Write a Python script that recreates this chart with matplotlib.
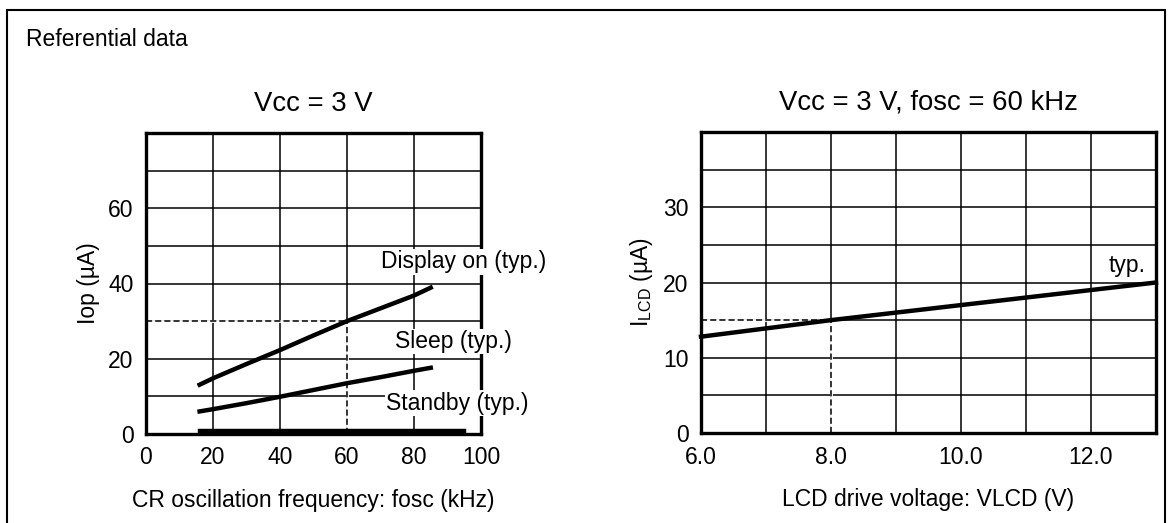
import matplotlib.pyplot as plt
from matplotlib.patches import Rectangle

plt.rcParams['font.family'] = ['Liberation Sans', 'DejaVu Sans']
plt.rcParams['font.size'] = 16.5

# operating current vs CR oscillation frequency
osc_freq = [16, 20, 30, 40, 50, 60, 70, 80, 85]
display_on = [13.1, 14.8, 18.6, 22.3, 26.2, 30.0, 33.4, 36.8, 38.9]
sleep = [6.0, 6.6, 8.2, 9.9, 11.7, 13.5, 15.1, 16.8, 17.6]
standby_freq = [16, 95]
standby = [0.7, 0.7]

# LCD drive current vs LCD drive voltage
vlcd = [6.0, 7.0, 8.0, 9.0, 10.0, 11.0, 12.0, 13.0]
ilcd = [12.8, 13.9, 15.0, 16.0, 17.0, 18.0, 19.0, 20.0]

left_xticks = [0, 20, 40, 60, 80, 100]
left_yticks = [0, 10, 20, 30, 40, 50, 60, 70, 80]
left_ylabels = ['0', '', '20', '', '40', '', '60', '', '']
right_xticks = [6, 7, 8, 9, 10, 11, 12, 13]
right_xlabels = ['6.0', '', '8.0', '', '10.0', '', '12.0', '']
right_yticks = [0, 5, 10, 15, 20, 25, 30, 35, 40]
right_ylabels = ['0', '', '10', '', '20', '', '30', '', '']

fig = plt.figure(figsize=(11.72, 5.23), dpi=100)

# outer frame
fig.patches.append(Rectangle((7 / 1172, -0.05), 1158 / 1172, 1.05 - 10 / 523,
                             transform=fig.transFigure, fill=False,
                             edgecolor='black', linewidth=1.5))
fig.text(26 / 1172, 1 - 39 / 523, 'Referential data', ha='left', va='center')

ax1 = fig.add_axes([146 / 1172, 1 - 434 / 523, 335 / 1172, 301 / 523])
ax2 = fig.add_axes([701 / 1172, 1 - 433 / 523, 455 / 1172, 301 / 523])

label_box = dict(facecolor='white', edgecolor='none', pad=1.0)


def style(ax):
    for s in ax.spines.values():
        s.set_linewidth(2.4)
    ax.tick_params(length=0, pad=9)
    ax.grid(True, color='black', linewidth=1.1)
    ax.set_axisbelow(True)


def dashed_guide(ax, x0, x1, y0, y1):
    # white out the grid segment, then draw it dashed
    ax.plot([x0, x1], [y0, y1], color='white', linewidth=2.0, zorder=1.5)
    ax.plot([x0, x1], [y0, y1], color='black', linewidth=1.1,
            linestyle=(0, (4, 2)), zorder=1.6)


# left panel
style(ax1)
ax1.set_xlim(0, 100)
ax1.set_ylim(0, 80)
ax1.set_xticks(left_xticks)
ax1.set_yticks(left_yticks)
ax1.set_yticklabels(left_ylabels)
dashed_guide(ax1, 0, 60, 30, 30)
dashed_guide(ax1, 60, 60, 0, 30)
ax1.plot(osc_freq, display_on, color='black', linewidth=3.2, zorder=3)
ax1.plot(osc_freq, sleep, color='black', linewidth=3.2, zorder=3)
ax1.plot(standby_freq, standby, color='black', linewidth=3.2, zorder=3)
ax1.text(70.2, 45.8, 'Display on (typ.)', ha='left', va='center',
         clip_on=False, bbox=label_box, zorder=4)
ax1.text(74.2, 24.6, 'Sleep (typ.)', ha='left', va='center',
         clip_on=False, bbox=label_box, zorder=4)
ax1.text(71.7, 8.2, 'Standby (typ.)', ha='left', va='center',
         clip_on=False, bbox=label_box, zorder=4)
ax1.set_title('Vcc = 3 V', pad=16)
ax1.set_xlabel('CR oscillation frequency: fosc (kHz)', labelpad=14)
ax1.set_ylabel('Iop (µA)', labelpad=6)

# right panel
style(ax2)
ax2.set_xlim(6, 13)
ax2.set_ylim(0, 40)
ax2.set_xticks(right_xticks)
ax2.set_xticklabels(right_xlabels)
ax2.set_yticks(right_yticks)
ax2.set_yticklabels(right_ylabels)
dashed_guide(ax2, 6, 8, 15, 15)
dashed_guide(ax2, 8, 8, 0, 15)
ax2.plot(vlcd, ilcd, color='black', linewidth=3.2, zorder=3, clip_on=False)
ax2.text(12.84, 22.3, 'typ.', ha='right', va='center')
ax2.set_title('Vcc = 3 V, fosc = 60 kHz', pad=16)
ax2.set_xlabel('LCD drive voltage: VLCD (V)', labelpad=14)
ax2.set_ylabel(r'$\mathregular{I_{LCD}}$ (µA)', labelpad=6)

fig.savefig('out.png', dpi=100)
